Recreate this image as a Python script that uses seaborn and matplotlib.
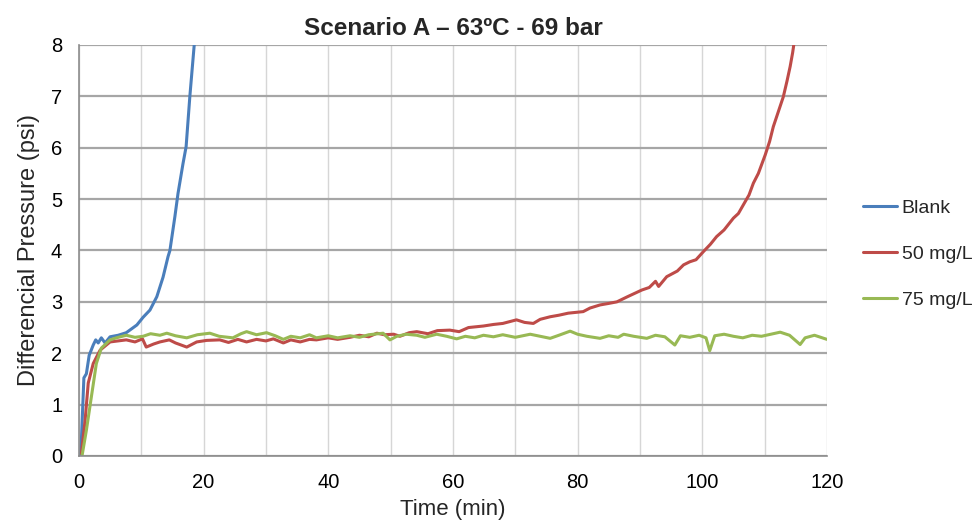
import matplotlib
matplotlib.use("Agg")
import matplotlib.pyplot as plt
import seaborn as sns
import pandas as pd
from matplotlib.ticker import MultipleLocator

# Blank
blank_t = [0.3, 0.8, 1.2, 1.65, 2.3, 2.7, 3.1, 3.6, 4.2, 5.0, 6.3, 7.6, 9.3, 10.3, 11.4,
           12.5, 13.5, 14.3, 14.6, 15.4, 15.9, 16.7, 17.2, 17.8, 18.5, 18.8]
blank_p = [0.0, 1.52, 1.6, 1.96, 2.16, 2.26, 2.2, 2.3, 2.2, 2.32, 2.35, 2.4, 2.55, 2.7, 2.84,
           3.1, 3.48, 3.88, 4.0, 4.66, 5.11, 5.69, 6.02, 7.0, 8.0, 8.4]

# 50 mg/L
mg50_t = [0.4, 1.0, 1.5, 2.3, 3.4, 5.0, 6.3, 7.6, 9.0, 10.2, 10.8, 12.0, 13.0, 14.5, 15.5,
          17.3, 18.9, 20.5, 22.6, 24.0, 25.5, 26.9, 28.5, 30.0, 31.2, 32.8, 34.0, 35.5, 37.0,
          38.1, 40.0, 41.5, 43.5, 45.0, 46.5, 47.8, 49.0, 50.5, 51.5, 53.0, 54.2, 56.0, 57.5,
          59.5, 61.0, 62.5, 64.9, 66.5, 68.0, 70.2, 71.5, 72.9, 74.0, 75.6, 77.0, 78.5, 80.9,
          82.0, 83.6, 85.0, 86.3, 88.0, 90.3, 91.5, 92.5, 93.0, 94.3, 96.0, 97.0, 98.0, 99.0,
          100.2, 101.3, 102.3, 103.5, 105.0, 105.8, 106.6, 107.5, 108.2, 109.0, 110.1, 110.8,
          111.4, 112.2, 113.0, 113.6, 114.1, 114.5, 114.8]
mg50_p = [0.05, 0.7, 1.42, 1.8, 2.06, 2.22, 2.24, 2.26, 2.22, 2.28, 2.12, 2.18, 2.22, 2.26, 2.2,
          2.12, 2.22, 2.25, 2.26, 2.21, 2.27, 2.22, 2.27, 2.24, 2.28, 2.2, 2.26, 2.22, 2.27,
          2.26, 2.3, 2.27, 2.31, 2.35, 2.32, 2.39, 2.36, 2.37, 2.33, 2.4, 2.42, 2.38, 2.44,
          2.45, 2.42, 2.5, 2.53, 2.56, 2.58, 2.65, 2.6, 2.58, 2.66, 2.71, 2.74, 2.78, 2.81,
          2.88, 2.94, 2.97, 3.0, 3.1, 3.23, 3.28, 3.4, 3.3, 3.49, 3.6, 3.72, 3.78, 3.82,
          3.98, 4.12, 4.27, 4.4, 4.63, 4.72, 4.89, 5.08, 5.31, 5.5, 5.86, 6.12,
          6.41, 6.7, 6.99, 7.3, 7.58, 7.85, 8.1]

# 75 mg/L
mg75_t = [0.5, 1.2, 2.0, 2.8, 3.6, 5.0, 6.0, 7.6, 9.0, 10.3, 11.5, 13.0, 14.1, 15.5, 17.3,
          19.0, 21.0, 22.5, 24.7, 26.0, 26.9, 28.5, 30.1, 31.5, 32.8, 34.0, 35.5, 37.0, 38.1,
          40.0, 41.5, 43.5, 45.0, 46.5, 48.8, 49.9, 51.0, 52.5, 54.2, 55.5, 57.4, 59.0, 60.6,
          62.0, 63.5, 64.9, 66.5, 68.0, 70.0, 72.4, 74.0, 75.6, 77.0, 78.8, 80.0, 81.5, 83.6,
          85.0, 86.5, 87.4, 89.0, 91.1, 92.5, 94.0, 95.6, 96.5, 98.0, 99.5, 100.6, 101.2,
          102.0, 103.5, 105.0, 106.5, 108.0, 109.5, 111.0, 112.5, 114.0, 115.7, 116.5, 118.0,
          119.0, 120.0]
mg75_p = [0.0, 0.5, 1.15, 1.8, 2.1, 2.26, 2.3, 2.35, 2.31, 2.33, 2.38, 2.35, 2.39, 2.34, 2.3,
          2.36, 2.39, 2.33, 2.3, 2.38, 2.42, 2.36, 2.4, 2.34, 2.27, 2.33, 2.3, 2.36, 2.3,
          2.34, 2.3, 2.34, 2.31, 2.36, 2.39, 2.26, 2.33, 2.37, 2.35, 2.31, 2.37, 2.33, 2.28,
          2.33, 2.3, 2.35, 2.32, 2.36, 2.31, 2.37, 2.33, 2.29, 2.35, 2.43, 2.37, 2.33, 2.29,
          2.34, 2.31, 2.37, 2.33, 2.29, 2.35, 2.32, 2.16, 2.34, 2.31, 2.35, 2.3, 2.05,
          2.34, 2.37, 2.33, 2.3, 2.35, 2.33, 2.37, 2.41, 2.35, 2.17, 2.3, 2.35,
          2.31, 2.27]

labels = ["Blank", "50 mg/L", "75 mg/L"]
colors = ["#4a7ebb", "#be4b48", "#98b954"]

df = pd.concat([
    pd.DataFrame({"Time": blank_t, "Pressure": blank_p, "Series": labels[0]}),
    pd.DataFrame({"Time": mg50_t, "Pressure": mg50_p, "Series": labels[1]}),
    pd.DataFrame({"Time": mg75_t, "Pressure": mg75_p, "Series": labels[2]}),
])

sns.set_style("white")
plt.rcParams["font.family"] = ["Liberation Sans", "DejaVu Sans"]

fig = plt.figure(figsize=(9.74, 5.29), dpi=100)
ax = fig.add_axes([0.081, 0.138, 0.768, 0.777])

sns.lineplot(data=df, x="Time", y="Pressure", hue="Series", palette=colors,
             hue_order=labels, sort=False, estimator=None, linewidth=2.2, ax=ax)

ax.set_xlim(0, 120)
ax.set_ylim(0, 8)
ax.xaxis.set_major_locator(MultipleLocator(20))
ax.xaxis.set_minor_locator(MultipleLocator(10))
ax.yaxis.set_major_locator(MultipleLocator(1))

# Grid
ax.grid(False)
ax.set_axisbelow(True)
ax.yaxis.grid(True, which="major", color="#a6a6a6", linewidth=1.6)
ax.xaxis.grid(True, which="both", color="#d6d6d6", linewidth=1.0)

for s in ["top", "right"]:
    ax.spines[s].set_visible(False)
for s in ["left", "bottom"]:
    ax.spines[s].set_color("#8c8c8c")
    ax.spines[s].set_linewidth(1.2)

ax.tick_params(axis="both", which="both", direction="out", length=5, width=1,
               color="#8c8c8c", labelsize=14.5, labelcolor="black")
ax.tick_params(axis="x", pad=7)
ax.tick_params(axis="y", pad=7)

# Labels
ax.set_xlabel("Time (min)", fontsize=16, labelpad=5)
ax.set_ylabel("Differencial Pressure (psi)", fontsize=17, labelpad=8)
ax.set_title("Scenario A \u2013 63\u00baC - 69 bar", fontsize=17.5, fontweight="bold", pad=7)

# Legend
ax.legend(loc="center left", bbox_to_anchor=(853 / 974, 0.52),
          bbox_transform=fig.transFigure, frameon=False, fontsize=14,
          handlelength=1.75, handletextpad=0.25, labelspacing=1.45, borderpad=0)

plt.savefig("out.png", dpi=100)
plt.close()
